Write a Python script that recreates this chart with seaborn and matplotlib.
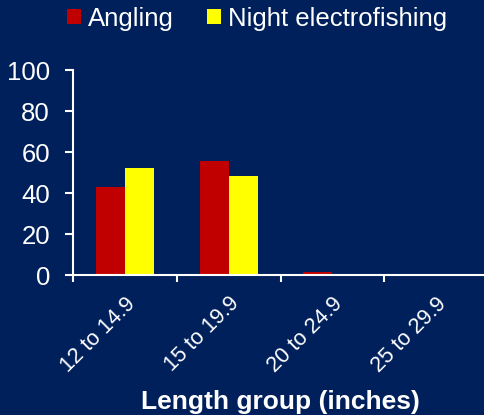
import matplotlib
matplotlib.use("Agg")
import matplotlib.pyplot as plt
import seaborn as sns
import pandas as pd
from matplotlib.patches import Patch
from matplotlib.ticker import FixedLocator

categories = ["12 to 14.9", "15 to 19.9", "20 to 24.9", "25 to 29.9"]
series_names = ["Angling", "Night electrofishing"]
angling = [43, 55.6, 1.3, 0]
electro = [52, 48.4, 0, 0]
colors = ["#C00000", "#FFFF00"]
bg = "#00205C"

df = pd.DataFrame({
    "group": categories * 2,
    "method": [series_names[0]] * 4 + [series_names[1]] * 4,
    "value": angling + electro,
})

sns.set_theme(style="white")
plt.rcParams["font.family"] = ["Liberation Sans", "DejaVu Sans"]

fig = plt.figure(figsize=(4.85, 4.15), dpi=100, facecolor=bg)
ax = fig.add_axes([0.1505, 0.3373, 0.856, 0.4940])
ax.set_facecolor(bg)

sns.barplot(data=df, x="group", y="value", hue="method", order=categories,
            hue_order=series_names, palette=colors, width=0.56,
            saturation=1, linewidth=0, ax=ax, legend=False)

ax.set_xlim(-0.5, 3.5)
ax.set_ylim(0, 100)
ax.set_yticks([0, 20, 40, 60, 80, 100])
for s in ["top", "right"]:
    ax.spines[s].set_visible(False)
for s in ["left", "bottom"]:
    ax.spines[s].set_color("white")
    ax.spines[s].set_linewidth(1.5)

ax.tick_params(axis="y", colors="white", labelsize=18.5, length=5.5, width=1.5,
               direction="out", left=True, pad=11)
ax.tick_params(axis="x", which="major", length=0, colors="white", labelsize=15.7, pad=13)
ax.xaxis.set_minor_locator(FixedLocator([-0.5, 0.5, 1.5, 2.5]))
ax.tick_params(axis="x", which="minor", length=5, width=1.5, color="white",
               direction="out", bottom=True)
for lab in ax.get_xticklabels():
    lab.set_rotation(45)
    lab.set_ha("right")
    lab.set_va("top")
    lab.set_rotation_mode("anchor")
    lab.set_color("white")

ax.set_ylabel("")
ax.set_xlabel("Length group (inches)", color="white", fontsize=19,
              fontweight="bold", labelpad=10)

handles = [Patch(facecolor=c, edgecolor="none", label=n) for c, n in zip(colors, series_names)]
leg = fig.legend(handles=handles, loc="center", bbox_to_anchor=(0.53, 0.955), ncol=2,
                 frameon=False, fontsize=18.5, handlelength=0.55, handleheight=0.55,
                 handletextpad=0.25, columnspacing=1.3, labelcolor="white")

fig.savefig("out.png", dpi=100, facecolor=bg)
